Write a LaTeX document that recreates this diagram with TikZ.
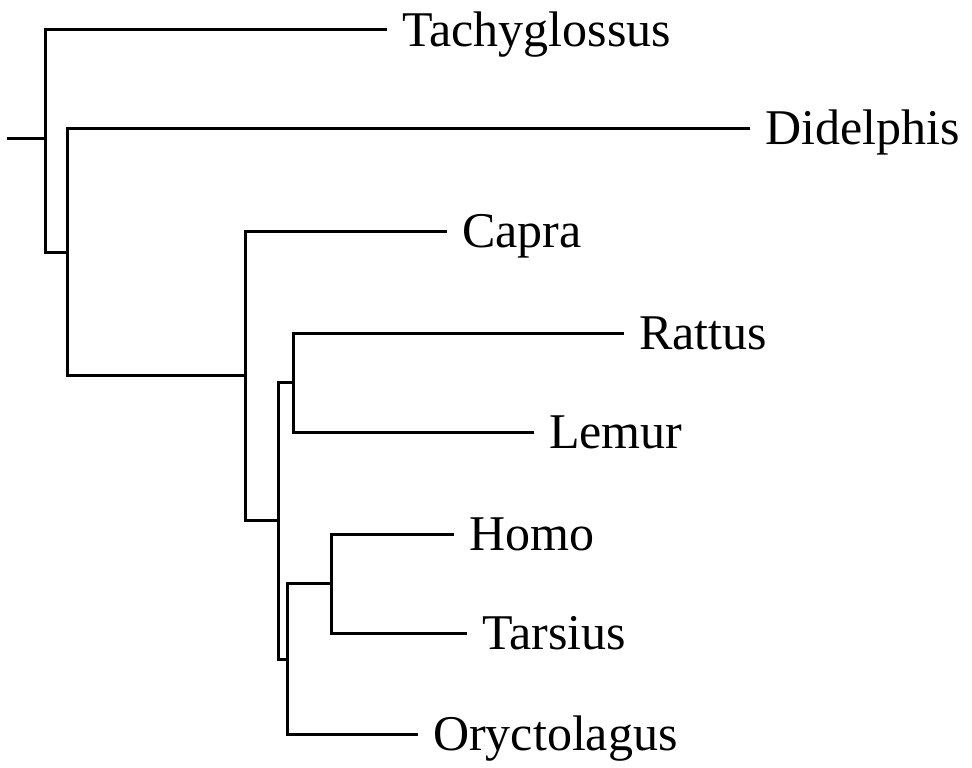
\documentclass[tikz,border=0pt]{standalone}
\usepackage{fontspec}
\setmainfont{Liberation Serif}
\begin{document}
\begin{tikzpicture}[x=1pt,y=-1pt,
  br/.style={line width=3pt,line cap=rect},
  leaf/.style={anchor=base west,inner sep=0pt,font=\fontsize{50}{60}\selectfont,yshift=-16.5pt,xshift=17pt}]
\useasboundingbox (0,0) rectangle (972,768);
% internal nodes
\coordinate (r0) at (8,138);
\coordinate (n1) at (45,138);
\coordinate (n2) at (67,252);
\coordinate (n3) at (245,375);
\coordinate (n4) at (278,520);
\coordinate (n5) at (293,382);
\coordinate (n6) at (287,659);
\coordinate (n7) at (331,583);
% leaf ends
\coordinate (tTa) at (385,30);
\coordinate (tDi) at (748,128);
\coordinate (tCa) at (445,231);
\coordinate (tRa) at (622,333);
\coordinate (tLe) at (532,432);
\coordinate (tHo) at (452,534);
\coordinate (tTs) at (465,633);
\coordinate (tOr) at (416,734);
% labels
\node[leaf] (Ta) at (tTa) {Tachyglossus};
\node[leaf] (Di) at (tDi) {Didelphis};
\node[leaf] (Ca) at (tCa) {Capra};
\node[leaf] (Ra) at (tRa) {Rattus};
\node[leaf] (Le) at (tLe) {Lemur};
\node[leaf] (Ho) at (tHo) {Homo};
\node[leaf] (Ts) at (tTs) {Tarsius};
\node[leaf] (Or) at (tOr) {Oryctolagus};
% branches
\draw[br] (r0) -- (n1);
\draw[br] (tTa) -| (n1) |- (n2);
\draw[br] (tDi) -| (n2) |- (n3);
\draw[br] (tCa) -| (n3) |- (n4);
\draw[br] (n5) -- (n4 |- n5) -- (n4 |- n6) -- (n6);
\draw[br] (tRa) -| (n5) |- (tLe);
\draw[br] (n7) -- (n6 |- n7) -- (n6 |- tOr) -- (tOr);
\draw[br] (tHo) -| (n7) |- (tTs);
\end{tikzpicture}
\end{document}
